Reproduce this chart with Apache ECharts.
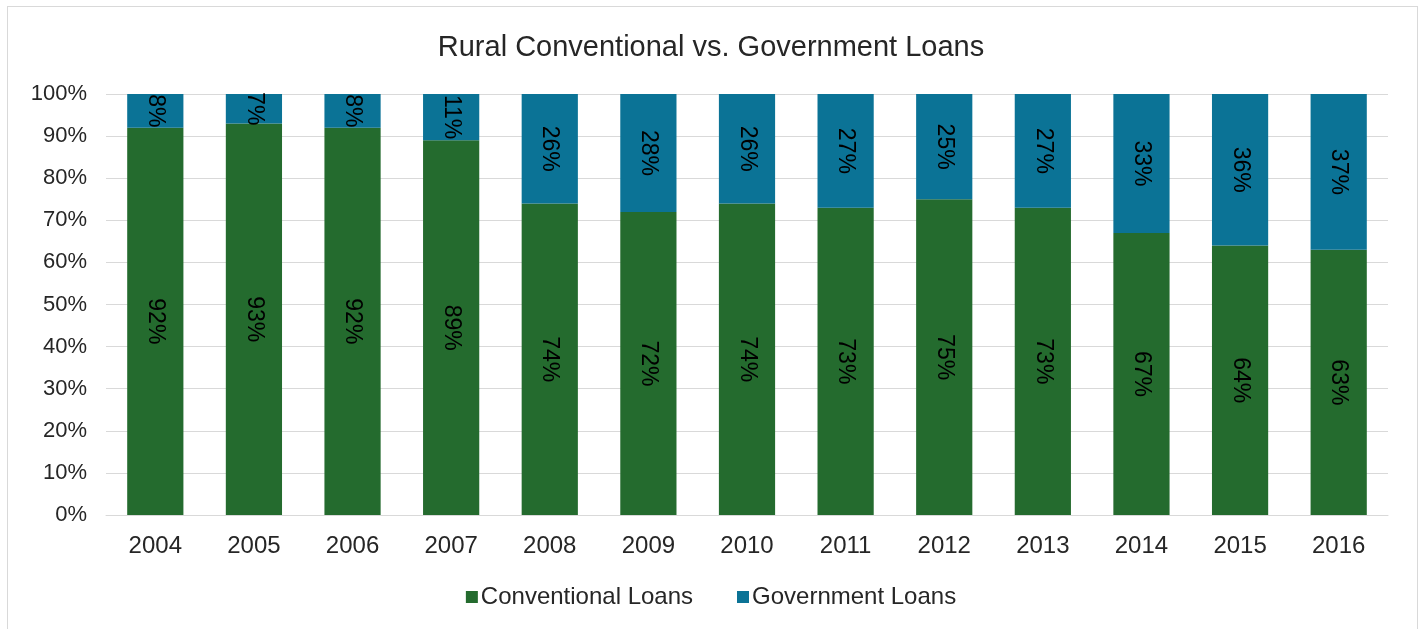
<!DOCTYPE html>
<html>
<head>
<meta charset="utf-8">
<script src="https://cdn.jsdelivr.net/npm/echarts@6/dist/echarts.min.js"></script>
<style>
html,body{margin:0;padding:0;background:#fff;}
#frame{position:absolute;left:7px;top:6px;width:1411px;height:640px;border:1px solid #d9d9d9;box-sizing:border-box;}
#chart{position:absolute;left:0;top:0;width:1422px;height:629px;}
</style>
</head>
<body>
<div id="frame"></div>
<div id="chart"></div>
<script>
const years = ['2004','2005','2006','2007','2008','2009','2010','2011','2012','2013','2014','2015','2016'];
const conventional = [92,93,92,89,74,72,74,73,75,73,67,64,63];
const government = [8,7,8,11,26,28,26,27,25,27,33,36,37];
const yTicks = [0,10,20,30,40,50,60,70,80,90,100];

const chart = echarts.init(document.getElementById('chart'));
const font = 'Liberation Sans, Arial, sans-serif';
const labelStyle = {
  show: true, position: 'inside', rotate: -90,
  formatter: p => p.value + '%', color: '#000', fontSize: 23, fontFamily: font
};
chart.setOption({
  animation: false,
  title: {
    text: 'Rural Conventional vs. Government Loans',
    left: 'center', top: 28,
    textStyle: {fontSize: 29, fontWeight: 'normal', color: '#262626', fontFamily: font}
  },
  legend: {
    top: 580, left: 'center',
    itemWidth: 12, itemHeight: 12, itemGap: 44, icon: 'rect',
    textStyle: {fontSize: 24, color: '#262626', fontFamily: font, padding: [0,0,0,-2]},
    data: ['Conventional Loans','Government Loans']
  },
  grid: {left: 106, right: 34, top: 94, bottom: 114},
  xAxis: {
    type: 'category', data: years,
    axisLine: {lineStyle: {color: '#d9d9d9', width: 1}},
    axisTick: {show: false},
    axisLabel: {color: '#262626', fontSize: 24, fontFamily: font, margin: 19}
  },
  yAxis: {
    type: 'value', min: 0, max: 100, interval: 10,
    axisLine: {show: false}, axisTick: {show: false},
    splitLine: {lineStyle: {color: '#d9d9d9', width: 1}},
    axisLabel: {color: '#262626', fontSize: 22, fontFamily: font, margin: 19,
      formatter: v => yTicks.includes(v) ? v + '%' : ''}
  },
  series: [
    {name: 'Conventional Loans', type: 'bar', stack: 'a', data: conventional,
     barWidth: '57%', itemStyle: {color: '#246b2e'}, label: labelStyle},
    {name: 'Government Loans', type: 'bar', stack: 'a', data: government,
     barWidth: '57%', itemStyle: {color: '#0b7396'}, label: labelStyle}
  ]
});
</script>
</body>
</html>
